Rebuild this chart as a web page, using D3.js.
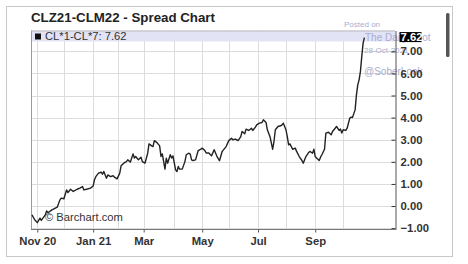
<!DOCTYPE html>
<html>
<head>
<meta charset="utf-8">
<script src="https://cdn.jsdelivr.net/npm/d3@7"></script>
<style>
body { margin: 0; background: #fff; }
svg { display: block; font-family: "Liberation Sans", Arial, sans-serif; }
</style>
</head>
<body>
<div id="chart"></div>
<script>
// trading session index (0 = 27-Oct-2020) and spread value
var sessions = [0, 2, 4, 6, 7, 10, 11, 12, 15, 19, 21, 22, 24, 26, 27, 29, 31, 34, 36, 38, 39, 41, 44,
    46, 47, 48, 50, 52, 53, 54, 56, 57, 59, 61, 62, 64, 66, 67, 69, 71, 72, 74, 76, 77, 78, 80, 82, 83,
    85, 87, 88, 90, 91, 92, 94, 96, 97, 98, 100, 101, 102, 104, 105, 106, 108, 109, 110, 111, 113, 115,
    116, 118, 119, 120, 121, 123, 125, 127, 128, 130, 131, 133, 135, 137, 139, 141, 143, 144, 146, 148,
    150, 151, 153, 155, 157, 158, 160, 161, 163, 165, 166, 168, 169, 171, 173, 174, 176, 177, 179, 181,
    182, 183, 185, 187, 188, 189, 191, 192, 193, 194, 196, 198, 199, 201, 203, 204, 206, 208, 209, 211,
    212, 213, 214, 216, 217, 218, 220, 221, 223, 225, 226, 228, 229, 231, 232, 233, 234, 236, 237, 239,
    240, 241, 243, 244, 245, 246, 247, 248, 249, 250];
var spread = [-0.40, -0.62, -0.75, -0.55, -0.65, -0.40, -0.22, -0.30, -0.17, -0.05, 0.28, 0.36, 0.33, 0.73,
    0.61, 0.76, 0.66, 0.76, 0.81, 0.88, 0.73, 0.76, 0.81,
    0.91, 1.19, 1.33, 1.49, 1.53, 1.44, 1.56, 1.26, 1.41, 1.33, 1.37, 1.31, 1.23, 1.49, 1.82, 1.94, 2.01,
    2.09, 1.99, 2.36, 2.17, 2.24, 2.09, 2.21, 2.01,
    1.94, 2.39, 2.81, 2.72, 2.69, 2.96, 2.87, 2.72, 2.24, 2.36, 1.67, 2.17, 1.94, 2.32, 2.17, 2.27, 1.64,
    1.56, 1.79, 1.67, 1.67, 2.01,
    2.32, 2.39, 2.35, 2.09, 2.06, 2.09, 2.51, 2.57, 2.62, 2.51, 2.40, 2.40, 2.27, 2.55, 2.26, 2.05, 2.47,
    2.54, 2.69, 2.96,
    3.07, 3.00, 3.03, 2.96, 3.14, 3.37, 3.27, 3.48, 3.42, 3.52, 3.42, 3.57, 3.67, 3.75, 3.78, 3.90, 3.78,
    3.45, 3.14, 2.57,
    2.92, 3.45, 3.60, 3.63, 3.67, 3.75, 3.45, 3.14, 2.77, 2.81, 2.57, 2.62, 2.47, 2.24, 2.06, 1.94, 2.24,
    2.42, 2.47, 2.39,
    2.57, 2.24, 2.17, 2.06, 2.21, 2.32, 2.57, 3.30, 3.34, 3.22, 3.37, 3.52, 3.60, 3.42, 3.48, 3.30, 3.45,
    3.42, 3.52, 3.98,
    4.02, 4.00, 4.35, 5.03, 5.48, 5.71, 6.09, 6.76, 7.37, 7.62];

// first session of each month, Nov 2020 .. Oct 2021
var monthStarts = [4, 24, 46, 65, 84, 107, 128, 148, 170, 191, 213, 234];
var monthLabels = ["Nov 20", "", "Jan 21", "", "Mar", "", "May", "", "Jul", "", "Sep", ""];
var yTicks = [-1, 0, 1, 2, 3, 4, 5, 6, 7];
var lastValue = 7.62;
var title = "CLZ21-CLM22 - Spread Chart";
var seriesName = "CL*1-CL*7";

var width = 468, height = 264;
var plot = { left: 31, right: 395, top: 30.5, bottom: 229.5 };

var x = d3.scaleLinear()
    .domain([-0.75, 273])
    .range([plot.left, plot.right]);

var y = d3.scaleLinear()
    .domain([-1.06, 7.94])
    .range([plot.bottom, plot.top]);

var svg = d3.select("#chart")
    .append("svg")
    .attr("width", width)
    .attr("height", height);

// outer frame + scrollbar
svg.append("rect")
    .attr("x", 6.5).attr("y", 6.5)
    .attr("width", 446).attr("height", 250)
    .attr("fill", "none")
    .attr("stroke", "#c8c8c8");

svg.append("rect")
    .attr("x", 446).attr("y", 13)
    .attr("width", 3.5).attr("height", 44)
    .attr("rx", 1.5)
    .attr("fill", "#555");

svg.append("text")
    .attr("x", plot.left)
    .attr("y", 21.5)
    .attr("font-size", "13.3px")
    .attr("font-weight", "bold")
    .attr("fill", "#222")
    .text(title);

// grid
svg.append("g")
    .selectAll("line")
    .data(yTicks)
    .enter()
    .append("line")
    .attr("x1", plot.left).attr("x2", plot.right)
    .attr("y1", function(d) { return Math.round(y(d)) + 0.5; })
    .attr("y2", function(d) { return Math.round(y(d)) + 0.5; })
    .attr("stroke", "#dcdcdc");

svg.append("g")
    .selectAll("line")
    .data(monthStarts)
    .enter()
    .append("line")
    .attr("x1", function(d) { return Math.round(x(d)) + 0.5; })
    .attr("x2", function(d) { return Math.round(x(d)) + 0.5; })
    .attr("y1", plot.top).attr("y2", plot.bottom)
    .attr("stroke", "#dcdcdc");

// legend band
svg.append("rect")
    .attr("x", plot.left).attr("y", plot.top)
    .attr("width", plot.right - plot.left).attr("height", 11)
    .attr("fill", "#e3e3f6");

svg.append("rect")
    .attr("x", 35).attr("y", 33.5)
    .attr("width", 6).attr("height", 6)
    .attr("fill", "#111");

svg.append("text")
    .attr("x", 45).attr("y", 40)
    .attr("font-size", "11.2px")
    .attr("fill", "#333")
    .text(seriesName + ": " + lastValue.toFixed(2));

// plot frame
svg.append("line")
    .attr("x1", plot.left + 0.5).attr("x2", plot.left + 0.5)
    .attr("y1", plot.top).attr("y2", plot.bottom)
    .attr("stroke", "#999");
svg.append("line")
    .attr("x1", plot.left).attr("x2", plot.right)
    .attr("y1", plot.top + 0.5).attr("y2", plot.top + 0.5)
    .attr("stroke", "#bbb");

// watermark
var wm = svg.append("g").attr("fill", "#a9acd0");
wm.append("text").attr("x", 344).attr("y", 27).attr("font-size", "8px").text("Posted on");
wm.append("text").attr("x", 365).attr("y", 40.5).attr("font-size", "10px").text("The Daily Shot");
wm.append("text").attr("x", 364).attr("y", 52.5).attr("font-size", "8px").text("28-Oct-2021");
wm.append("text").attr("x", 364).attr("y", 75).attr("font-size", "10px").text("@SoberLook");

// line
var line = d3.line()
    .x(function(d) { return x(d[0]); })
    .y(function(d) { return y(d[1]); });

svg.append("path")
    .datum(d3.zip(sessions, spread))
    .attr("d", line)
    .attr("fill", "none")
    .attr("stroke", "#222")
    .attr("stroke-width", 1.4)
    .attr("stroke-linejoin", "round");

// axes
var yAxis = d3.axisRight(y)
    .tickValues(yTicks)
    .tickSize(0)
    .tickPadding(5)
    .tickFormat(d3.format(".2f"));

var gy = svg.append("g")
    .attr("transform", "translate(" + (plot.right + 0.5) + ",0)")
    .call(yAxis);
gy.select(".domain").attr("stroke", "#555");
gy.selectAll(".tick text")
    .attr("font-size", "11.3px")
    .attr("font-weight", "bold")
    .attr("fill", "#333")
    .attr("font-family", "Liberation Sans, Arial, sans-serif");
gy.selectAll(".tick")
    .append("line")
    .attr("x1", -4).attr("x2", 0)
    .attr("stroke", "#333");

var xAxis = d3.axisBottom(x)
    .tickValues(monthStarts.filter(function(d, i) { return monthLabels[i] !== ""; }))
    .tickSize(3)
    .tickPadding(4)
    .tickFormat(function(d) { return monthLabels[monthStarts.indexOf(d)]; });

var gx = svg.append("g")
    .attr("transform", "translate(0," + plot.bottom + ")")
    .call(xAxis);
gx.select(".domain").attr("stroke", "#777").attr("d", "M" + plot.left + ",0H" + (plot.right + 0.5));
gx.selectAll(".tick line").attr("stroke", "#555");
gx.selectAll(".tick text")
    .attr("font-size", "11.3px")
    .attr("font-weight", "bold")
    .attr("fill", "#333")
    .attr("font-family", "Liberation Sans, Arial, sans-serif");

// last value marker
svg.append("rect")
    .attr("x", 399.5).attr("y", y(lastValue) - 5.5)
    .attr("width", 22).attr("height", 10)
    .attr("fill", "#000");
svg.append("text")
    .attr("x", 400.5).attr("y", y(lastValue) + 3.5)
    .attr("font-size", "11.3px")
    .attr("font-weight", "bold")
    .attr("fill", "#fff")
    .text(lastValue.toFixed(2));

// copyright
svg.append("text")
    .attr("x", 45).attr("y", 220.5)
    .attr("font-size", "11.2px")
    .attr("fill", "#333")
    .text("\u00a9 Barchart.com");
</script>
</body>
</html>
